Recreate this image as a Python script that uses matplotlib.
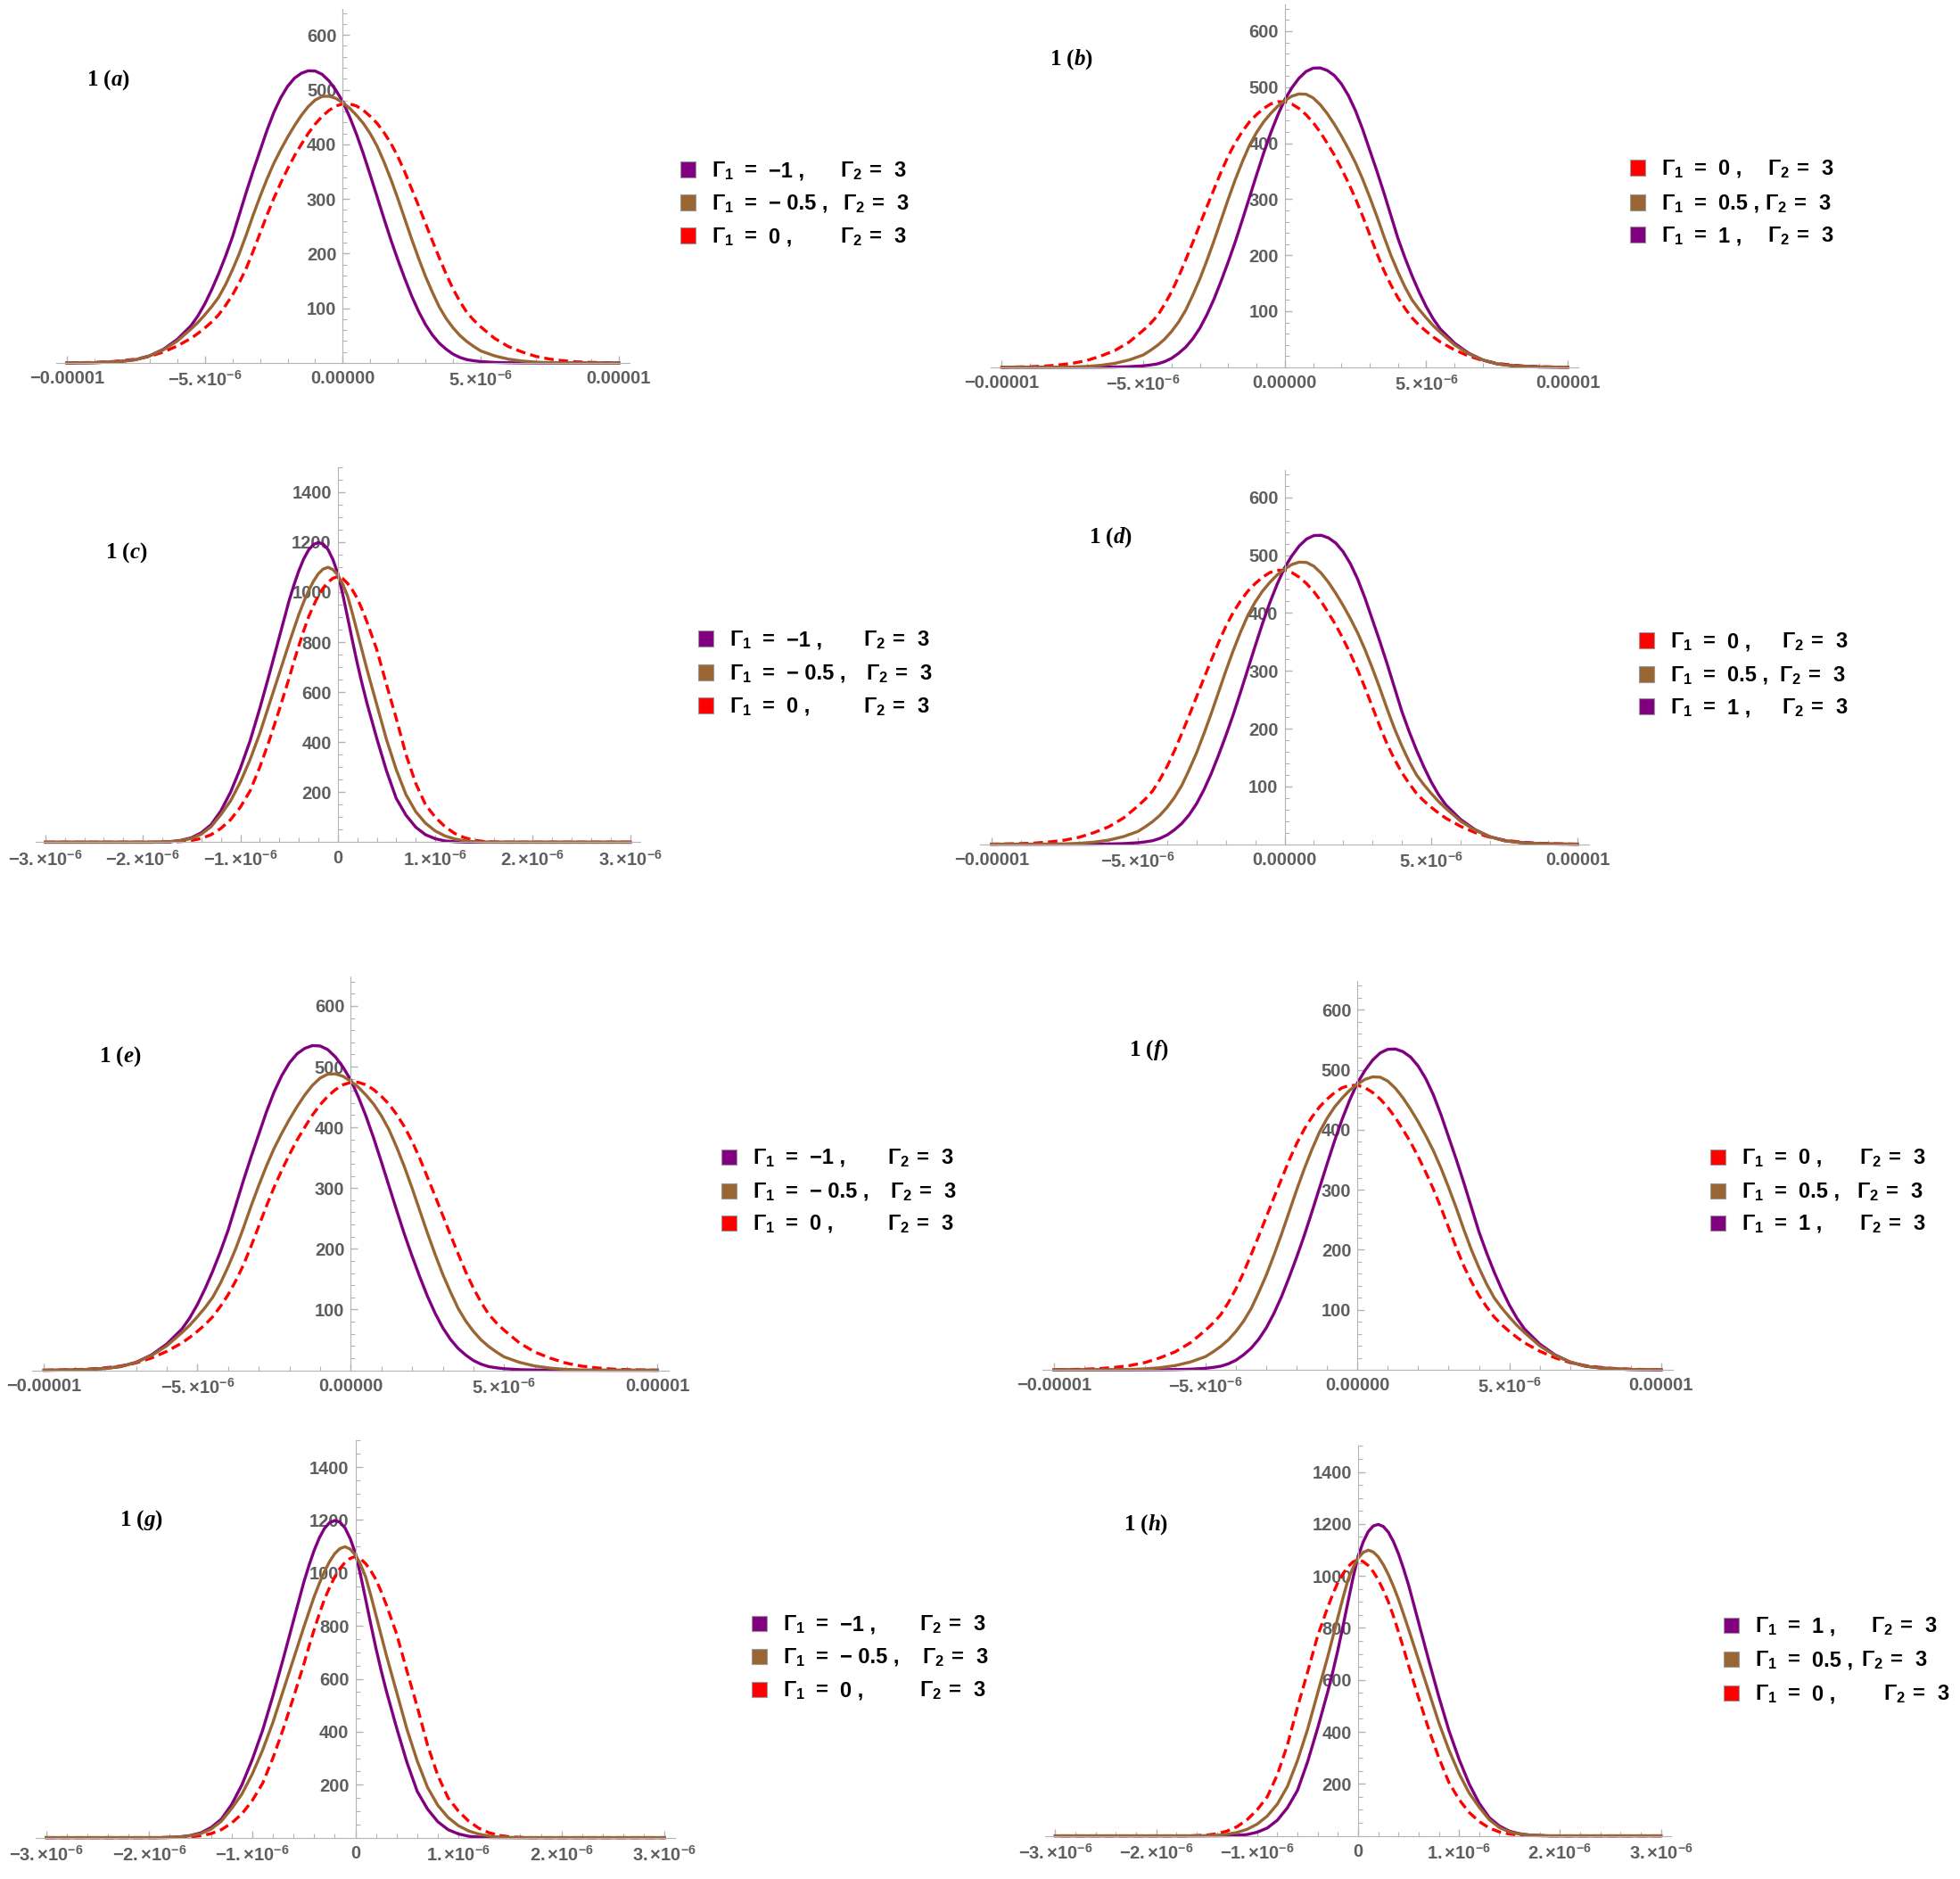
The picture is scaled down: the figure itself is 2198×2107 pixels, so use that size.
import numpy as np
import matplotlib
matplotlib.use("Agg")
import matplotlib.pyplot as plt
from matplotlib.patches import Rectangle
from matplotlib.ticker import MultipleLocator

plt.rcParams['font.family'] = ['Liberation Sans', 'DejaVu Sans']
plt.rcParams['mathtext.fontset'] = 'custom'
plt.rcParams['mathtext.bf'] = 'Liberation Sans:bold'
plt.rcParams['mathtext.rm'] = 'Liberation Sans:bold'
plt.rcParams['mathtext.it'] = 'Liberation Serif:bold:italic'

W, H = 2198, 2107

# ---- data, x in units of 1e-6 ----
# wide panels (a, b, d, e, f): x from -1e-5 to 1e-5, finer sampling in the middle
x_wide = np.concatenate((np.arange(-10, -5.9, 0.5), np.arange(-5.5, 5.01, 0.25), np.arange(5.5, 10.01, 0.5)))
wide_g1_m1 = [0, 0.2, 0.5, 1.5, 3, 6, 13, 25, 43,
              68, 86, 108, 134, 163, 195, 230,
              271, 312, 351, 388, 425, 458, 485, 506, 521, 530, 534.5, 534, 528, 516, 499,
              478, 450, 418, 382, 343, 303, 263, 224, 188, 154, 122, 94, 70, 51, 36,
              25, 16, 10, 6, 4, 2.5,
              1, 0.4, 0.1, 0, 0, 0, 0, 0, 0, 0]
wide_g1_m05 = [0, 0.2, 0.5, 1.5, 3, 6, 13, 24, 40,
               62, 74, 88, 103, 120, 143, 170,
               200, 234, 270, 304, 336, 365, 390, 413, 434, 453, 469, 481, 487.5, 488, 484,
               476, 466, 453, 438, 419, 396, 367, 335, 300, 263, 226, 191, 158, 129, 102,
               81, 64, 50, 39, 30, 22,
               13, 7, 3.5, 1.5, 0.5, 0.2, 0, 0, 0, 0]
wide_g1_0 = [0, 0.5, 1, 2, 4, 7, 12, 20, 31,
             45, 54, 64, 75, 88, 105, 124,
             147, 173, 204, 237, 270, 301, 329, 355, 379, 400, 420, 437, 451, 462, 470,
             474, 474, 470, 462, 451, 438, 421, 401, 377, 349, 318, 287, 255, 223, 192,
             162, 135, 112, 92, 78, 66,
             45, 30, 20, 12, 7, 4, 2, 1, 0.5, 0]

# narrow panels (c, g, h): x from -3e-6 to 3e-6
x_narrow = np.concatenate(([-3, -2.5], np.arange(-2, -0.55, 0.1), np.arange(-0.5, 0.31, 0.05),
                           np.arange(0.4, 2.01, 0.1), [2.5, 3]))
narrow_g1_m1 = [0, 0,
                0, 0, 1, 3, 8, 18, 38, 70, 125, 200, 295, 405, 535, 675, 820,
                965, 1028, 1085, 1132, 1168, 1190, 1198, 1192, 1170, 1130, 1075, 993, 900, 806, 715, 632, 555,
                415, 285, 175, 108, 60, 30, 14, 5, 2, 0.5, 0, 0, 0, 0, 0, 0, 0,
                0, 0]
narrow_g1_m05 = [0, 0,
                 0, 0, 1, 3, 7, 15, 32, 62, 110, 165, 240, 330, 435, 555, 675,
                 795, 853, 910, 960, 1005, 1043, 1073, 1092, 1099, 1090, 1068, 1032, 985, 915, 840, 765, 690,
                 550, 410, 290, 190, 122, 76, 45, 25, 13, 6, 2, 0.5, 0, 0, 0, 0, 0,
                 0, 0]
narrow_g1_0 = [0, 0,
               0, 0, 0.5, 1, 3, 7, 15, 30, 55, 90, 140, 205, 300, 410, 530,
               655, 722, 785, 845, 900, 945, 985, 1016, 1040, 1055, 1062, 1054, 1035, 1008, 975, 930, 880,
               770, 630, 495, 350, 235, 150, 100, 62, 35, 18, 8, 3, 1, 0, 0, 0, 0,
               0, 0]

PURPLE = '#800080'
BROWN = '#996633'
RED = '#ff0000'

wide_xticks = [-10, -5, 0, 5, 10]
wide_xlabels = ['\u22120.00001', r'$\mathbf{-5.{\times}10^{-6}}$', '0.00000', r'$\mathbf{5.{\times}10^{-6}}$', '0.00001']
narrow_xticks = [-3, -2, -1, 0, 1, 2, 3]
narrow_xlabels = [r'$\mathbf{-3.{\times}10^{-6}}$', r'$\mathbf{-2.{\times}10^{-6}}$', r'$\mathbf{-1.{\times}10^{-6}}$', '0',
                  r'$\mathbf{1.{\times}10^{-6}}$', r'$\mathbf{2.{\times}10^{-6}}$', r'$\mathbf{3.{\times}10^{-6}}$']
wide_yticks = [100, 200, 300, 400, 500, 600]
narrow_yticks = [200, 400, 600, 800, 1000, 1200, 1400]

leg_neg = ['\u22121 ,', '\u2212 0.5 ,', '0 ,']
leg_pos = ['0 ,', '0.5 ,', '1 ,']
leg_h = ['1 ,', '0.5 ,', '0 ,']

# panel layout in pixels: y-axis position, px per 1e-6, baseline, px per unit
panels = [
    dict(tag='a', kind='wide', flip=False, yax=384.4, xs=30.95, base=407.0, ys=0.613, lab=(121.7, 90),
         x0=798, cols=[942, 945, 942], rows=[190, 227, 264], leg=leg_neg, lc=[PURPLE, BROWN, RED]),
    dict(tag='b', kind='wide', flip=True, yax=1440.8, xs=31.73, base=411.8, ys=0.628, lab=(1201, 66.7),
         x0=1863, cols=[1982, 1979, 1982], rows=[188, 227, 263], leg=leg_pos, lc=[RED, BROWN, PURPLE]),
    dict(tag='c', kind='narrow', flip=False, yax=378.8, xs=109.3, base=944.4, ys=0.2805, lab=(141.7, 620),
         x0=818, cols=[968, 971, 968], rows=[716, 754, 791], leg=leg_neg, lc=[PURPLE, BROWN, RED]),
    dict(tag='d', kind='wide', flip=True, yax=1440.5, xs=32.88, base=946.6, ys=0.648, lab=(1245, 603),
         x0=1873, cols=[1998, 1995, 1998], rows=[718, 756, 792], leg=leg_pos, lc=[RED, BROWN, PURPLE]),
    dict(tag='e', kind='wide', flip=False, yax=393.3, xs=34.4, base=1536.5, ys=0.681, lab=(135, 1185),
         x0=844, cols=[995, 998, 995], rows=[1297, 1335, 1371], leg=leg_neg, lc=[PURPLE, BROWN, RED]),
    dict(tag='f', kind='wide', flip=True, yax=1522.3, xs=34.06, base=1536.0, ys=0.673, lab=(1288, 1178),
         x0=1953, cols=[2085, 2082, 2085], rows=[1297, 1335, 1371], leg=leg_pos, lc=[RED, BROWN, PURPLE]),
    dict(tag='g', kind='narrow', flip=False, yax=398.5, xs=115.6, base=2060.6, ys=0.2968, lab=(158, 1704.6),
         x0=878, cols=[1031, 1034, 1031], rows=[1820, 1857, 1894], leg=leg_neg, lc=[PURPLE, BROWN, RED]),
    dict(tag='h', kind='narrow', flip=True, yax=1523.0, xs=113.2, base=2058.6, ys=0.2915, lab=(1285.6, 1710),
         x0=1968, cols=[2098, 2087, 2112], rows=[1822, 1860, 1898], leg=leg_h, lc=[PURPLE, BROWN, RED]),
]

fig = plt.figure(figsize=(W / 100, H / 100), dpi=100)
fig.patch.set_facecolor('white')

AXC = '#b4b4b4'
TXC = '#5e5e5e'

for p in panels:
    if p['kind'] == 'wide':
        xext, ytop = 10.38, 648
        x, ym1, ym05, y0 = x_wide, wide_g1_m1, wide_g1_m05, wide_g1_0
        xt, xl, yt = wide_xticks, wide_xlabels, wide_yticks
        xminor, yminor = 1, 20
    else:
        xext, ytop = 3.1, 1500
        x, ym1, ym05, y0 = x_narrow, narrow_g1_m1, narrow_g1_m05, narrow_g1_0
        xt, xl, yt = narrow_xticks, narrow_xlabels, narrow_yticks
        xminor, yminor = 0.2, 50

    left = p['yax'] - xext * p['xs']
    width = 2 * xext * p['xs']
    height = ytop * p['ys']
    ax = fig.add_axes([left / W, 1 - p['base'] / H, width / W, height / H])
    ax.patch.set_alpha(0)
    ax.set_xlim(-xext, xext)
    ax.set_ylim(0, ytop)

    # positive Gamma_1 curves are the mirror image of the negative ones
    sgn = -1 if p['flip'] else 1
    ax.plot(sgn * x, y0, color=RED, lw=2.4, ls=(0, (3.2, 1.7)), clip_on=False)
    ax.plot(sgn * x, ym1, color=PURPLE, lw=2.4, clip_on=False)
    ax.plot(sgn * x, ym05, color=BROWN, lw=2.4, clip_on=False)

    for s in ['top', 'right']:
        ax.spines[s].set_visible(False)
    ax.spines['left'].set_position(('data', 0))
    ax.spines['left'].set_color(AXC)
    ax.spines['bottom'].set_color(AXC)

    ax.set_xticks(xt)
    ax.set_xticklabels(xl, fontweight='bold')
    ax.set_yticks(yt)
    ax.set_yticklabels([str(v) for v in yt], fontweight='bold')
    ax.xaxis.set_minor_locator(MultipleLocator(xminor))
    ax.yaxis.set_minor_locator(MultipleLocator(yminor))
    ax.tick_params(which='major', direction='in', length=6, width=1, color=AXC,
                   labelcolor=TXC, labelsize=14.5)
    ax.tick_params(which='minor', direction='in', length=3.5, width=0.8, color=AXC)
    ax.tick_params(axis='y', which='major', pad=5)
    ax.tick_params(axis='x', which='major', pad=6)

    # panel label
    lx, ly = p['lab']
    fig.text(lx / W, 1 - ly / H, r'1 ($\mathit{' + p['tag'] + '}$)', family='Liberation Serif',
             weight='bold', size=18, ha='center', va='center')

    # legend
    x0 = p['x0']
    for i in range(3):
        ry = p['rows'][i]
        fig.patches.append(Rectangle(((x0 - 35) / W, 1 - (ry + 8.5) / H), 17 / W, 17 / H,
                                     transform=fig.transFigure, facecolor=p['lc'][i],
                                     edgecolor='#999999', lw=0.8))
        yb = 1 - (ry + 8) / H
        fig.text(x0 / W, yb, r'$\mathbf{\Gamma_1}$', size=17, weight='bold', va='baseline')
        fig.text((x0 + 37) / W, yb, '=', size=17, weight='bold', va='baseline')
        fig.text((x0 + 64) / W, yb, p['leg'][i], size=17, weight='bold', va='baseline')
        c = p['cols'][i]
        fig.text(c / W, yb, r'$\mathbf{\Gamma_2}$', size=17, weight='bold', va='baseline')
        fig.text((c + 33) / W, yb, '=', size=17, weight='bold', va='baseline')
        fig.text((c + 60) / W, yb, '3', size=17, weight='bold', va='baseline')

fig.savefig('out.png', dpi=100, facecolor='white')
